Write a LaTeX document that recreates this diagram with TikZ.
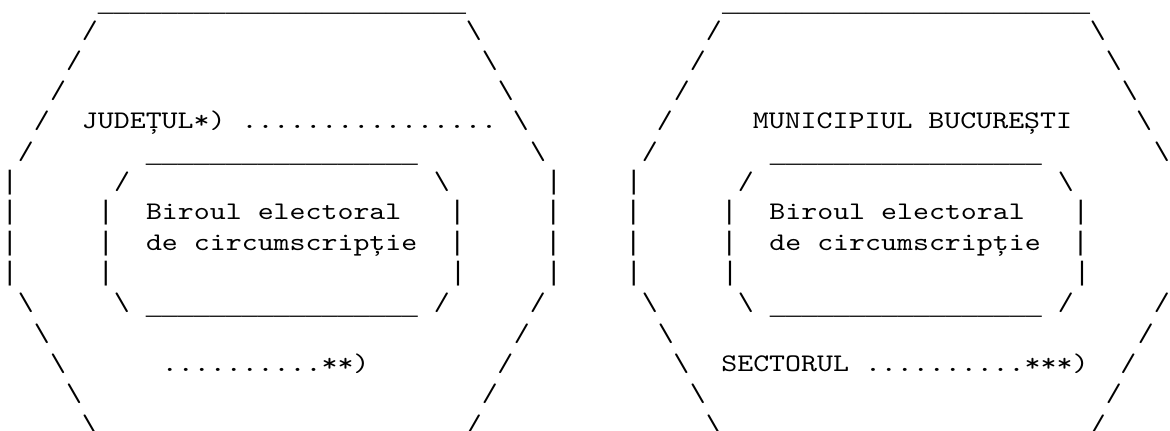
\documentclass[tikz,border=0pt]{standalone}
\usepackage{fontspec}
\newfontfamily\asciifont{lmmono10-regular.otf}[FakeStretch=1.2]
\newfontfamily\linefont{Liberation Mono}
\newlength\colw
\setlength\colw{12pt}
\newcommand\colskip[1]{\hspace*{#1\colw}}
\newcommand\bsl{\textbackslash}
\ExplSyntaxOn
\NewDocumentCommand\reps{mm}{\prg_replicate:nn{#1}{#2}}
\ExplSyntaxOff
\newcommand\unders[1]{\raisebox{-2.6pt}{\linefont\fontsize{20pt}{24pt}\selectfont\reps{#1}{\_}}}
\newcommand\vbar{{\linefont\fontsize{20pt}{24pt}\selectfont|}}
\begin{document}
\begin{tikzpicture}[asciirow/.style={anchor=base west,inner sep=0pt,outer sep=0pt,font={\asciifont\fontsize{19pt}{24pt}\selectfont}}]
\useasboundingbox (0pt,0pt) rectangle (877.5pt,-323.25pt);
\node[asciirow] (row0) at (1.5pt,-5.85pt) {\colskip{6}\unders{23}\colskip{16}\unders{23}};
\node[asciirow] (row1) at (1.5pt,-28.575pt) {\colskip{5}/\colskip{23}\bsl\colskip{14}/\colskip{23}\bsl};
\node[asciirow] (row2) at (1.5pt,-51.3pt) {\colskip{4}/\colskip{25}\bsl\colskip{12}/\colskip{25}\bsl};
\node[asciirow] (row3) at (1.5pt,-74.025pt) {\colskip{3}/\colskip{27}\bsl\colskip{10}/\colskip{27}\bsl};
\node[asciirow] (row4) at (1.5pt,-96.75pt) {\colskip{2}/\colskip{2}JUDEȚUL*)\colskip{1}................\colskip{1}\bsl\colskip{8}/\colskip{5}MUNICIPIUL\colskip{1}BUCUREȘTI\colskip{4}\bsl};
\node[asciirow] (row5) at (1.5pt,-119.475pt) {\colskip{1}/\colskip{7}\unders{17}\colskip{7}\bsl\colskip{6}/\colskip{7}\unders{17}\colskip{7}\bsl};
\node[asciirow] (row6) at (1.5pt,-142.2pt) {\vbar\colskip{6}/\colskip{19}\bsl\colskip{6}\vbar\colskip{4}\vbar\colskip{6}/\colskip{19}\bsl};
\node[asciirow] (row7) at (1.5pt,-164.925pt) {\vbar\colskip{5}\vbar\colskip{2}Biroul\colskip{1}electoral\colskip{3}\vbar\colskip{5}\vbar\colskip{4}\vbar\colskip{5}\vbar\colskip{2}Biroul\colskip{1}electoral\colskip{3}\vbar};
\node[asciirow] (row8) at (1.5pt,-187.65pt) {\vbar\colskip{5}\vbar\colskip{2}de\colskip{1}circumscripție\colskip{2}\vbar\colskip{5}\vbar\colskip{4}\vbar\colskip{5}\vbar\colskip{2}de\colskip{1}circumscripție\colskip{2}\vbar};
\node[asciirow] (row9) at (1.5pt,-210.375pt) {\vbar\colskip{5}\vbar\colskip{21}\vbar\colskip{5}\vbar\colskip{4}\vbar\colskip{5}\vbar\colskip{21}\vbar};
\node[asciirow] (row10) at (1.5pt,-233.1pt) {\colskip{1}\bsl\colskip{5}\bsl\colskip{1}\unders{17}\colskip{1}/\colskip{5}/\colskip{6}\bsl\colskip{5}\bsl\colskip{1}\unders{17}\colskip{1}/\colskip{5}/};
\node[asciirow] (row11) at (1.5pt,-255.825pt) {\colskip{2}\bsl\colskip{29}/\colskip{8}\bsl\colskip{29}/};
\node[asciirow] (row12) at (1.5pt,-278.55pt) {\colskip{3}\bsl\colskip{6}..........**)\colskip{8}/\colskip{10}\bsl\colskip{2}SECTORUL\colskip{1}..........***)\colskip{2}/};
\node[asciirow] (row13) at (1.5pt,-301.275pt) {\colskip{4}\bsl\colskip{25}/\colskip{12}\bsl\colskip{25}/};
\node[asciirow] (row14) at (1.5pt,-324pt) {\colskip{5}\bsl\colskip{23}/\colskip{14}\bsl\colskip{23}/};
\end{tikzpicture}
\end{document}
